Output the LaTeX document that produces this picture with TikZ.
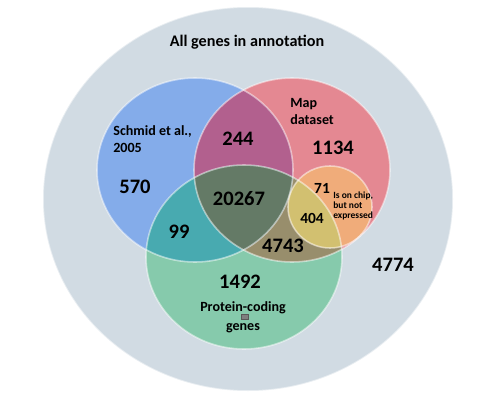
\documentclass[tikz,border=0pt]{standalone}
\usepackage{fontspec}
\setmainfont{Carlito}
\usepackage{tikz}
\definecolor{allgray}{RGB}{209, 219, 227}
\definecolor{schmidblue}{RGB}{132, 172, 234}
\definecolor{mapred}{RGB}{228, 136, 146}
\definecolor{protgreen}{RGB}{134, 202, 172}
\definecolor{chiporange}{RGB}{240, 172, 122}
\definecolor{bluered}{RGB}{178, 96, 142}
\definecolor{bluegreen}{RGB}{72, 170, 176}
\definecolor{redgreen}{RGB}{152, 142, 108}
\definecolor{allthree}{RGB}{100, 122, 102}
\definecolor{orangegreen}{RGB}{210, 192, 112}

\begin{document}
\begin{tikzpicture}[x=0.02cm, y=0.02cm,
        rim/.style={draw=white, draw opacity=0.5, line width=0.9pt},
        bignum/.style={font=\bfseries\fontsize{11.7}{13}\selectfont},
        smallnum/.style={font=\bfseries\fontsize{8.8}{10}\selectfont},
        setlabel/.style={font=\bfseries\fontsize{8}{9.7}\selectfont, inner sep=0pt}]
        \useasboundingbox (0,0) rectangle (500,-399);

        % centres of the sets
        \coordinate (allc) at (248,-199);
        \coordinate (schmidc) at (195,-170);
        \coordinate (mapc) at (292,-170);
        \coordinate (protc) at (244,-257);
        \coordinate (chipc) at (330,-207);

        % all genes
        \fill[allgray] (allc) ellipse (205 and 192);
        \draw[rim] (allc) ellipse (205 and 192);

        % the three sets
        \fill[schmidblue] (schmidc) ellipse (98 and 92);
        \fill[mapred] (mapc) ellipse (98 and 92);
        \fill[protgreen] (protc) ellipse (98 and 92);
        \begin{scope}
            \clip (mapc) ellipse (98 and 92);
            \fill[redgreen] (protc) ellipse (98 and 92);
        \end{scope}
        \begin{scope}
            \clip (schmidc) ellipse (98 and 92);
            \fill[bluered] (mapc) ellipse (98 and 92);
            \fill[bluegreen] (protc) ellipse (98 and 92);
            \clip (mapc) ellipse (98 and 92);
            \fill[allthree] (protc) ellipse (98 and 92);
        \end{scope}

        % on chip, not expressed
        \fill[chiporange] (chipc) ellipse (42 and 41);
        \begin{scope}
            \clip (chipc) ellipse (42 and 41);
            \fill[orangegreen] (protc) ellipse (98 and 92);
        \end{scope}

        % glossy rims
        \draw[rim] (schmidc) ellipse (98 and 92);
        \draw[rim] (mapc) ellipse (98 and 92);
        \draw[rim] (protc) ellipse (98 and 92);
        \draw[rim] (chipc) ellipse (42 and 41);

        % labels
        \node[setlabel, font=\bfseries\fontsize{9.2}{11}\selectfont] (title) at (247,-42) {All genes in annotation};
        \node[setlabel, anchor=west, align=left] (schmid) at (113,-139.5) {Schmid et al.,\\2005};
        \node[setlabel, anchor=west, align=left] (map) at (290,-111.5) {Map\\dataset};
        \node[setlabel, align=center, font=\bfseries\fontsize{8}{10.6}\selectfont] (prot) at (243,-317) {Protein-coding\\genes};
        \node[draw=gray!70!black, fill=gray, minimum width=4, minimum height=3, inner sep=0pt, line width=0.4pt] (mark) at (245,-317) {};
        \node[setlabel, anchor=west, align=left, font=\bfseries\fontsize{5.4}{5.8}\selectfont] (chip) at (333,-206) {Is on chip,\\but not\\expressed};

        % counts
        \node[bignum] (n570) at (135,-187) {570};
        \node[bignum] (n244) at (238,-139) {244};
        \node[bignum] (n1134) at (333,-148) {1134};
        \node[bignum] (n20267) at (239,-199) {20267};
        \node[smallnum] (n71) at (322,-188) {71};
        \node[smallnum] (n404) at (312,-218) {404};
        \node[bignum] (n99) at (179,-232) {99};
        \node[bignum] (n4743) at (283,-246) {4743};
        \node[bignum] (n4774) at (393,-265) {4774};
        \node[bignum] (n1492) at (240,-282) {1492};
    \end{tikzpicture}
\end{document}
